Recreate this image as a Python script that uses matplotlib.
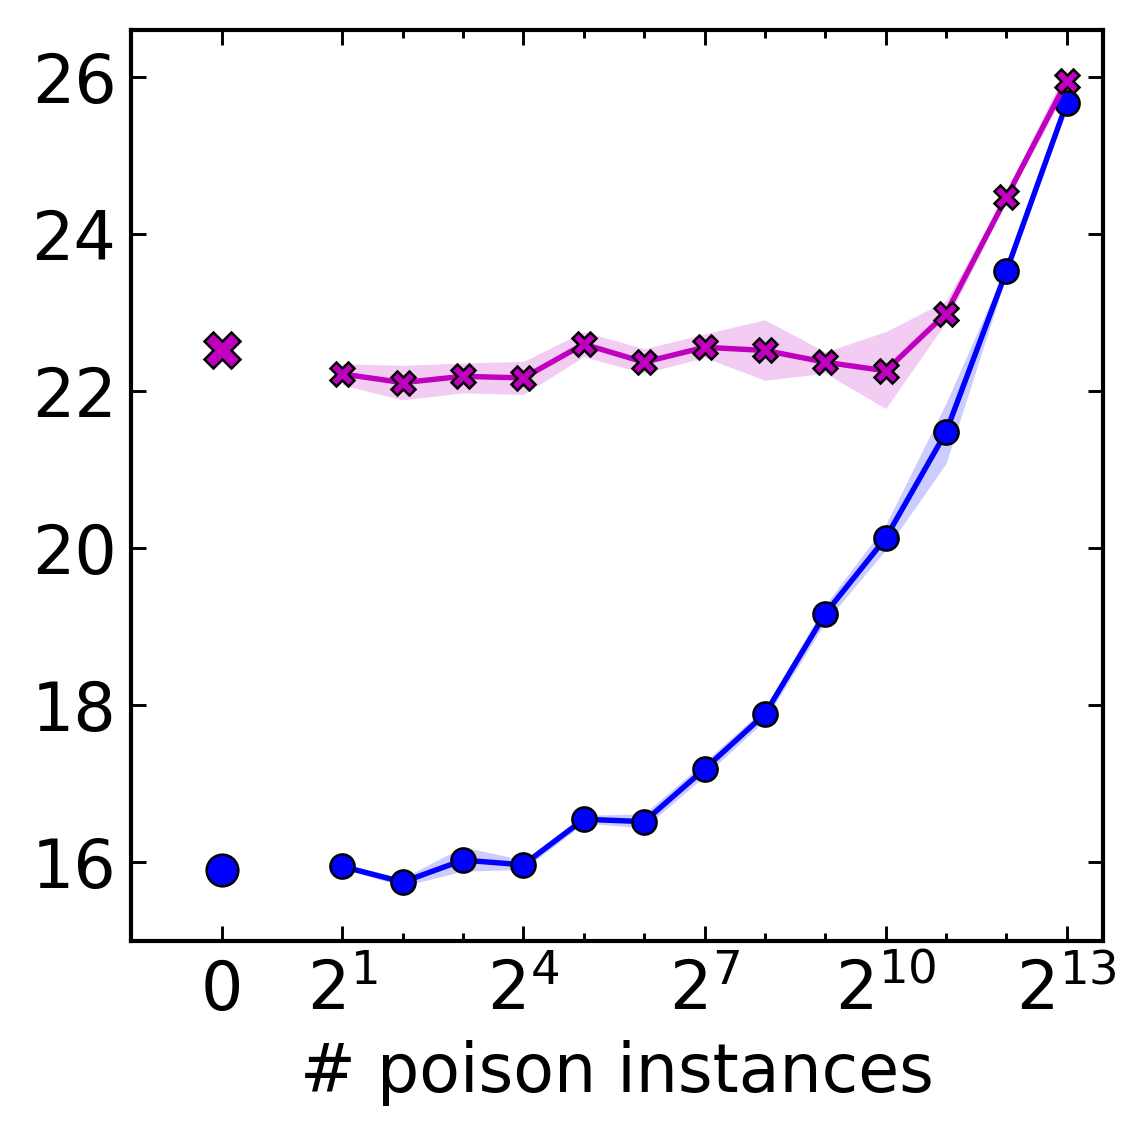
import numpy as np
import matplotlib
matplotlib.use("Agg")
import matplotlib.pyplot as plt
from matplotlib.ticker import FixedLocator

# --------- DADOS ----------
n_poison = [2, 4, 8, 16, 32, 64, 128, 256, 512, 1024, 2048, 4096, 8192]

# serie magenta (X)
mag_mean = [22.22, 22.11, 22.19, 22.17, 22.60, 22.37, 22.56, 22.52, 22.37, 22.26, 22.99, 24.47, 25.95]
mag_low = [22.08, 21.89, 21.98, 21.96, 22.44, 22.23, 22.43, 22.14, 22.23, 21.78, 22.88, 24.42, 25.85]
mag_high = [22.35, 22.33, 22.36, 22.38, 22.76, 22.54, 22.73, 22.91, 22.50, 22.76, 23.15, 24.53, 26.12]
mag_base = 22.52

# serie azul (circulos)
blue_mean = [15.95, 15.75, 16.03, 15.97, 16.55, 16.52, 17.19, 17.89, 19.17, 20.13, 21.48, 23.53, 25.67]
blue_low = [15.92, 15.70, 15.89, 15.91, 16.50, 16.44, 17.10, 17.81, 19.06, 19.98, 21.08, 23.47, 25.60]
blue_high = [15.98, 15.80, 16.20, 16.03, 16.60, 16.62, 17.28, 17.97, 19.28, 20.30, 21.85, 23.59, 25.74]
blue_base = 15.91

major_ticks = [0, 2, 16, 128, 1024, 8192]
major_labels = ["0", "$2^{1}$", "$2^{4}$", "$2^{7}$", "$2^{10}$", "$2^{13}$"]


def pos(n):
    # eixo em log2, com o "0" colocado em -1
    n = np.asarray(n, dtype=float)
    return np.where(n > 0, np.log2(np.where(n > 0, n, 1)), -1.0)


x = pos(n_poison)

# --------- PLOT ----------
plt.rcParams["font.family"] = "DejaVu Sans"
plt.rcParams["font.size"] = 16
plt.rcParams["xtick.direction"] = "in"
plt.rcParams["ytick.direction"] = "in"
plt.rcParams["xtick.top"] = True
plt.rcParams["ytick.right"] = True

fig = plt.figure(figsize=(1147 / 300, 1141 / 300), dpi=300)
ax = fig.add_axes([131 / 1147, 1 - 941 / 1141, (1103 - 131) / 1147, (941 - 30) / 1141])

ax.fill_between(x, mag_low, mag_high, color="m", alpha=0.2, linewidth=0)
ax.fill_between(x, blue_low, blue_high, color="b", alpha=0.2, linewidth=0)

ax.plot(x, blue_mean, color="b", linewidth=1.3, marker="o", markersize=5.8,
        markerfacecolor="b", markeredgecolor="k", markeredgewidth=0.6, zorder=3)
ax.plot(x, mag_mean, color="m", linewidth=1.3, marker="X", markersize=5.6,
        markerfacecolor="m", markeredgecolor="k", markeredgewidth=0.6, zorder=4)

ax.plot(pos([0]), [mag_base], linestyle="none", marker="X", markersize=8.5,
        markerfacecolor="m", markeredgecolor="k", markeredgewidth=0.6, zorder=4)
ax.plot(pos([0]), [blue_base], linestyle="none", marker="o", markersize=7.6,
        markerfacecolor="b", markeredgecolor="k", markeredgewidth=0.6, zorder=4)

ax.set_xlim(-2.5, 13.6)
ax.set_ylim(15.0, 26.6)

ax.xaxis.set_major_locator(FixedLocator(pos(major_ticks)))
ax.set_xticklabels(major_labels)
minor = [n for n in n_poison if n not in major_ticks]
ax.xaxis.set_minor_locator(FixedLocator(pos(minor)))
ax.set_yticks([16, 18, 20, 22, 24, 26])

for s in ax.spines.values():
    s.set_linewidth(1.0)
ax.tick_params(which="major", length=3.6, width=0.7, labelsize=16)
ax.tick_params(which="minor", length=2.0, width=0.7)
ax.tick_params(axis="y", which="major", pad=3.5)
ax.tick_params(axis="x", which="major", pad=4)

ax.set_xlabel("# poison instances", fontsize=16)

plt.savefig("out.png", dpi=300, facecolor="white")
